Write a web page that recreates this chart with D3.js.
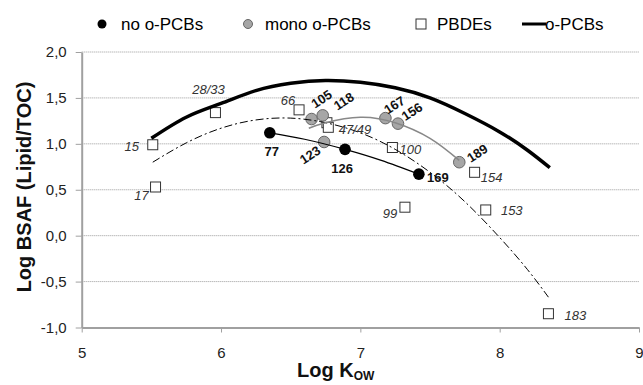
<!DOCTYPE html>
<html><head><meta charset="utf-8">
<script src="https://cdn.jsdelivr.net/npm/d3@7"></script>
<style>
html,body{margin:0;padding:0;background:#fff;}
text{font-family:"Liberation Sans",Arial,sans-serif;}
</style></head>
<body>
<svg id="chart" width="643" height="385"></svg>
<script>
// ---------- data ----------
const noOrthoNames = ["77", "126", "169"];
const noOrthoX = [6.35, 6.89, 7.42];
const noOrthoY = [1.12, 0.94, 0.67];

const monoNames = ["105", "118", "123", "167", "156", "189"];
const monoX = [6.65, 6.73, 6.74, 7.18, 7.27, 7.71];
const monoY = [1.27, 1.31, 1.02, 1.28, 1.22, 0.80];

const pbdeNames = ["15", "17", "28/33", "66", "47/49", "", "99", "100", "153", "154", "183"];
const pbdeX = [5.51, 5.53, 5.96, 6.56, 6.76, 6.77, 7.32, 7.23, 7.90, 7.82, 8.35];
const pbdeY = [0.99, 0.53, 1.34, 1.37, 1.23, 1.18, 0.31, 0.96, 0.28, 0.69, -0.85];

// trend curves
const orthoCurveX = [5.50, 5.75, 6.00, 6.25, 6.50, 6.75, 7.00, 7.25, 7.50, 7.75, 8.00, 8.20, 8.36];
const orthoCurveY = [1.06, 1.29, 1.44, 1.58, 1.66, 1.69, 1.67, 1.61, 1.50, 1.33, 1.13, 0.93, 0.74];

const pbdeCurveX = [5.51, 5.75, 6.00, 6.25, 6.50, 6.75, 7.00, 7.25, 7.50, 7.75, 8.00, 8.20, 8.35];
const pbdeCurveY = [0.80, 1.01, 1.17, 1.26, 1.28, 1.23, 1.12, 0.94, 0.69, 0.37, -0.02, -0.37, -0.67];

const monoCurveX = [6.63, 6.75, 7.00, 7.25, 7.50, 7.71];
const monoCurveY = [1.17, 1.23, 1.29, 1.23, 1.06, 0.82];

const noOrthoCurveX = [6.35, 6.60, 6.89, 7.15, 7.42];
const noOrthoCurveY = [1.12, 1.05, 0.94, 0.82, 0.67];

const xTicks = [5, 6, 7, 8, 9];
const yTicks = [-1.0, -0.5, 0.0, 0.5, 1.0, 1.5, 2.0];

const legendLabels = ["no o-PCBs", "mono o-PCBs", "PBDEs", "o-PCBs"];

// ---------- layout (label offsets in px, rotation) ----------
const labelLayout = {
  "77": [2, 19, 0], "126": [-3, 19, 0], "169": [19, 3, 0],
  "105": [10, -20, -33], "118": [21, -14, -33], "123": [-14, 13, -33],
  "167": [9, -13, -33], "156": [14, -12, -33], "189": [18, -9, -33],
  "15": [-21, 2, 0], "17": [-14, 9, 0], "28/33": [-7, -23, 0], "66": [-11, -9, 0],
  "47/49": [28, 7, 0], "99": [-15, 6, 0], "100": [18, 2, 0], "153": [26, 1, 0],
  "154": [17, 5, 0], "183": [27, 2, 0]
};

const svg = d3.select("#chart");
const x = d3.scaleLinear().domain([5, 9]).range([81.7, 639]);
const y = d3.scaleLinear().domain([-1, 2]).range([327.5, 52]);
const fmt = d => d3.format(".1f")(d).replace(".", ",").replace("\u2212", "-");

// gridlines
svg.append("g").selectAll("line").data(yTicks.filter(d => d > -1)).join("line")
  .attr("x1", x(5)).attr("x2", x(9))
  .attr("y1", d => y(d)).attr("y2", d => y(d))
  .attr("stroke", "#9a9a9a").attr("stroke-width", 1).attr("stroke-dasharray", "1,1");

// axes
const yAxis = svg.append("g").attr("transform", `translate(${x(5)},0)`)
  .call(d3.axisLeft(y).tickValues(yTicks).tickFormat(fmt).tickSize(6).tickSizeOuter(0).tickPadding(9));
const xAxis = svg.append("g").attr("transform", `translate(0,${y(-1)})`)
  .call(d3.axisBottom(x).tickValues(xTicks).tickFormat(d3.format("d")).tickSize(5).tickSizeOuter(0).tickPadding(15));
[yAxis, xAxis].forEach(g => {
  g.select(".domain").attr("stroke", "#a0a0a0").attr("stroke-width", 2);
  g.selectAll(".tick line").attr("stroke", "#a0a0a0");
  g.selectAll(".tick text").attr("font-size", 15).attr("fill", "#222")
    .attr("font-family", "'Liberation Sans', Arial, sans-serif");
});

// markers
const zip = (xs, ys, ns) => xs.map((v, i) => ({x: v, y: ys[i], name: ns ? ns[i] : ""}));
const noOrtho = zip(noOrthoX, noOrthoY, noOrthoNames);
const mono = zip(monoX, monoY, monoNames);
const pbde = zip(pbdeX, pbdeY, pbdeNames);

const sq = 10;
svg.append("g").selectAll("rect").data(pbde).join("rect")
  .attr("x", d => x(d.x) - sq / 2).attr("y", d => y(d.y) - sq / 2)
  .attr("width", sq).attr("height", sq)
  .attr("fill", "#fff").attr("stroke", "#333").attr("stroke-width", 1);

svg.append("g").selectAll("circle").data(mono).join("circle")
  .attr("cx", d => x(d.x)).attr("cy", d => y(d.y)).attr("r", 5.8)
  .attr("fill", "#a6a6a6").attr("stroke", "#666").attr("stroke-width", 1);

svg.append("g").selectAll("circle").data(noOrtho).join("circle")
  .attr("cx", d => x(d.x)).attr("cy", d => y(d.y)).attr("r", 5.8)
  .attr("fill", "#000");

// curves
const line = d3.line().x(d => x(d.x)).y(d => y(d.y)).curve(d3.curveNatural);
svg.append("path").datum(zip(orthoCurveX, orthoCurveY)).attr("d", line)
  .attr("fill", "none").attr("stroke", "#000").attr("stroke-width", 3.5);
svg.append("path").datum(zip(pbdeCurveX, pbdeCurveY)).attr("d", line)
  .attr("fill", "none").attr("stroke", "#000").attr("stroke-width", 1)
  .attr("stroke-dasharray", "8,3,2,3");
svg.append("path").datum(zip(monoCurveX, monoCurveY)).attr("d", line)
  .attr("fill", "none").attr("stroke", "#888").attr("stroke-width", 1.5);
svg.append("path").datum(zip(noOrthoCurveX, noOrthoCurveY)).attr("d", line)
  .attr("fill", "none").attr("stroke", "#000").attr("stroke-width", 1.2);

// labels
function addLabels(data, italic) {
  svg.append("g").selectAll("text").data(data.filter(d => d.name)).join("text")
    .attr("transform", d => {
      const o = labelLayout[d.name];
      return `translate(${x(d.x) + o[0]},${y(d.y) + o[1]}) rotate(${o[2]})`;
    })
    .attr("text-anchor", "middle").attr("dominant-baseline", "central")
    .attr("font-size", 13)
    .attr("font-style", italic ? "italic" : "normal")
    .attr("font-weight", italic ? "normal" : "bold")
    .attr("fill", italic ? "#333" : "#111")
    .text(d => d.name);
}
addLabels(pbde, true);
addLabels(noOrtho, false);
addLabels(mono, false);

// axis titles
svg.append("text").attr("x", 297).attr("y", 377)
  .attr("font-size", 20).attr("font-weight", "bold").attr("fill", "#111")
  .call(t => {
    t.append("tspan").text("Log K");
    t.append("tspan").attr("font-size", 12).attr("dy", 3).text("OW");
  });
svg.append("text").attr("transform", "translate(31,187) rotate(-90)")
  .attr("text-anchor", "middle").attr("font-size", 20).attr("font-weight", "bold").attr("fill", "#111")
  .text("Log BSAF (Lipid/TOC)");

// legend
const lg = svg.append("g");
const ly = 24;
lg.append("circle").attr("cx", 102).attr("cy", ly).attr("r", 4.5).attr("fill", "#000");
lg.append("text").attr("x", 121).attr("y", ly).attr("dy", "0.35em").attr("font-size", 17).text(legendLabels[0]);
lg.append("circle").attr("cx", 248).attr("cy", ly).attr("r", 4.5).attr("fill", "#a6a6a6").attr("stroke", "#666");
lg.append("text").attr("x", 265).attr("y", ly).attr("dy", "0.35em").attr("font-size", 17).text(legendLabels[1]);
lg.append("rect").attr("x", 416).attr("y", ly - 5).attr("width", 10).attr("height", 10)
  .attr("fill", "#fff").attr("stroke", "#333");
lg.append("text").attr("x", 437).attr("y", ly).attr("dy", "0.35em").attr("font-size", 17).text(legendLabels[2]);
lg.append("line").attr("x1", 522).attr("x2", 546).attr("y1", ly).attr("y2", ly)
  .attr("stroke", "#000").attr("stroke-width", 3);
lg.append("text").attr("x", 545).attr("y", ly).attr("dy", "0.35em").attr("font-size", 17).text(legendLabels[3]);
</script>
</body></html>
